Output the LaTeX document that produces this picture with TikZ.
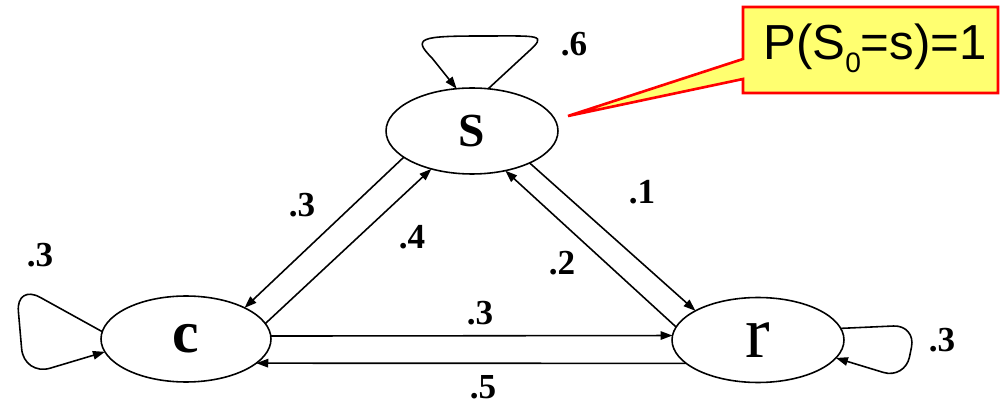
\documentclass[tikz,border=0pt]{standalone}
\usepackage{fontspec}
\setmainfont{Liberation Serif}
\newfontfamily\calloutfont{Liberation Sans}
\usetikzlibrary{arrows.meta,shapes.geometric}
\definecolor{calloutyellow}{RGB}{255,255,112}
\definecolor{calloutred}{RGB}{255,0,0}
\begin{document}
\begin{tikzpicture}[x=0.02cm,y=-0.02cm,
  state/.style={ellipse,draw,line width=0.9pt,inner sep=0pt,outer sep=0pt,
                minimum width=3.44cm,minimum height=1.72cm},
  edge/.style={line width=0.9pt,-{Triangle[length=0.24cm,width=0.17cm]}},
  loopedge/.style={edge,rounded corners=0.45cm},
  prob/.style={inner sep=0pt,font=\fontsize{20}{20}\selectfont\bfseries},
  callout/.style={draw=calloutred,fill=calloutyellow,line width=1.5pt,line join=miter}]
\useasboundingbox (0,0) rectangle (1001,405);

% states
\node[state,font=\fontsize{27}{27}\selectfont\bfseries] (s) at (472,131) {S};
\node[state,minimum width=3.4cm,font=\fontsize{34}{34}\selectfont\bfseries] (c) at (186,339) {c};
\node[state,minimum width=3.44cm,minimum height=1.7cm,font=\fontsize{42}{42}\selectfont] (r) at (758,340) {r};

% transitions
\draw[edge] (s.201) -- (c.28);
\draw[edge] (c.11) -- (s.223);
\draw[edge] (s.331) -- (r.155);
\draw[edge] (r.171) -- (s.310);
\draw[edge] (c.2) -- (r.177);
\draw[edge] (r.198) -- (c.341);

% self loops
\draw[edge] (s.69) -- (528,52) .. controls (548,34) and (540,36) .. (482,36)
  .. controls (420,36) and (412,38) .. (432,58) -- (s.110);
\draw[edge,rounded corners=0.55cm] (c.175) -- (16,284) -- (24,376) -- (c.189);
\draw[loopedge] (r.8) -- (916,325) -- (905,379) -- (r.347);

% probabilities
\node[prob] (p6) at (574,44) {.6};
\node[prob] (p3a) at (302,205) {.3};
\node[prob] (p4) at (412,237) {.4};
\node[prob] (p1) at (642,192) {.1};
\node[prob] (p2) at (562,263) {.2};
\node[prob] (p3b) at (480,313) {.3};
\node[prob] (p5) at (483,387) {.5};
\node[prob] (p3c) at (40,255) {.3};
\node[prob] (p3d) at (942,340) {.3};

% callout
\path[callout] (743,7) -- (998,7) -- (998,93) -- (743,93) -- (743,79)
  -- (568,116) -- (743,59) -- cycle;
\node[anchor=base,inner sep=0pt,font=\calloutfont\fontsize{28}{28}\selectfont]
  (cl) at (875,60) {P(S\raisebox{-7.4pt}{\fontsize{16}{16}\selectfont 0}=s)=1};
\end{tikzpicture}
\end{document}
